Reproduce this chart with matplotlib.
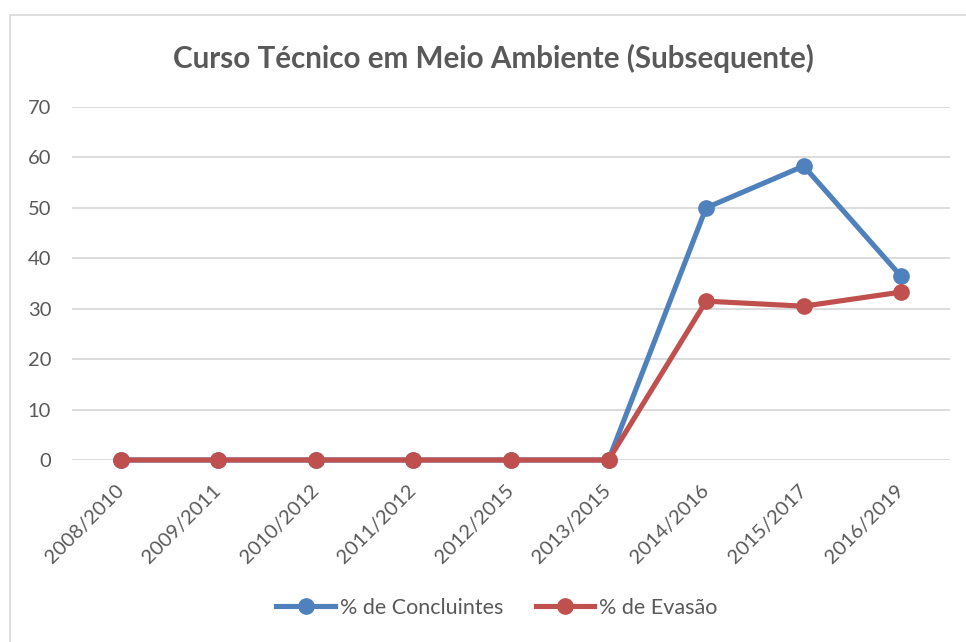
import matplotlib.pyplot as plt
from matplotlib.patches import Rectangle

# data
periodos = ["2008/2010", "2009/2011", "2010/2012", "2011/2012", "2012/2015",
            "2013/2015", "2014/2016", "2015/2017", "2016/2019"]
concluintes = [0, 0, 0, 0, 0, 0, 50.0, 58.3, 36.4]
evasao = [0, 0, 0, 0, 0, 0, 31.5, 30.5, 33.3]

plt.rcParams['font.family'] = ['Lato', 'DejaVu Sans']
txt = '#595959'

fig = plt.figure(figsize=(9.66, 6.42), dpi=100)
fig.patches.append(Rectangle((10 / 966, -0.1), 1.1, 1 - 15 / 642 + 0.1,
                             transform=fig.transFigure, fill=False,
                             edgecolor='#d9d9d9', linewidth=1.2))

ax = fig.add_axes([72 / 966, 1 - 460 / 642, 878 / 966, 353 / 642])
x = range(len(periodos))
ax.plot(x, concluintes, color='#4f81bd', lw=3.7, marker='o', ms=11,
        label='% de Concluintes', zorder=3, clip_on=False)
ax.plot(x, evasao, color='#c0504d', lw=3.7, marker='o', ms=11,
        label='% de Evasão', zorder=4, clip_on=False)

ax.set_xlim(-0.5, len(periodos) - 0.5)
ax.set_ylim(0, 70)
ax.set_yticks(range(0, 71, 10))
ax.set_xticks(list(x))
ax.set_xticklabels(periodos, rotation=45, ha='right', va='center',
                   rotation_mode='anchor')
ax.tick_params(axis='both', length=0, colors=txt, labelsize=14.5)
ax.tick_params(axis='y', pad=15)
ax.tick_params(axis='x', pad=20)
ax.grid(axis='y', color='#d9d9d9', lw=1.3)
ax.set_axisbelow(True)
for s in ax.spines.values():
    s.set_visible(False)

fig.text(493 / 966, 1 - 58 / 642, 'Curso Técnico em Meio Ambiente (Subsequente)',
         ha='center', va='center', fontsize=21.3, fontweight='bold', color=txt)

fig.legend(loc='center', bbox_to_anchor=(497 / 966, 1 - 608 / 642), ncol=2,
           frameon=False, fontsize=15.5, labelcolor=txt, handlelength=2.7,
           handletextpad=0.25, columnspacing=1.5)

fig.savefig('out.png', dpi=100)
